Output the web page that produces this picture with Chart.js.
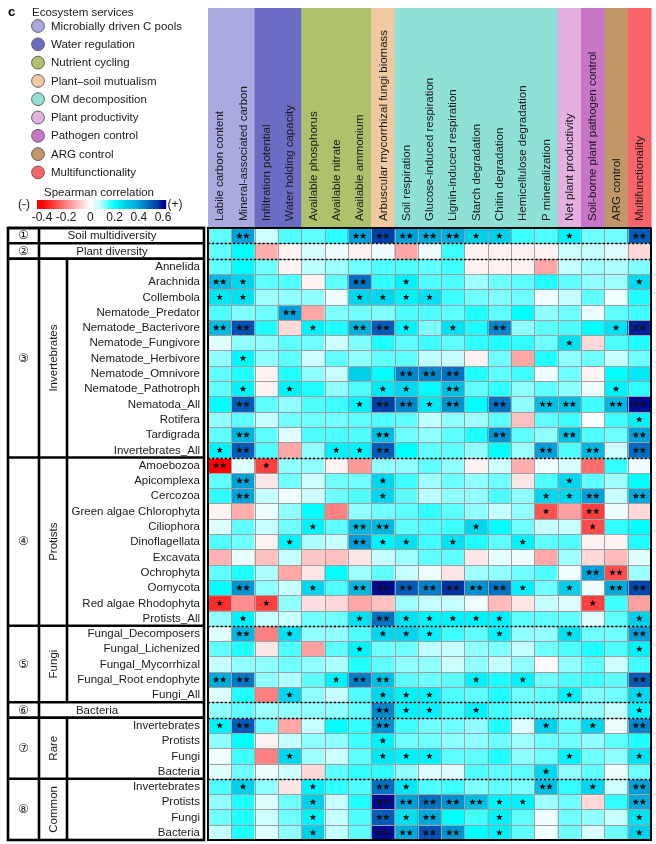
<!DOCTYPE html>
<html><head><meta charset="utf-8">
<script src="https://cdn.jsdelivr.net/npm/chart.js@4.4.0/dist/chart.umd.min.js"></script>
<style>html,body{margin:0;padding:0;background:#fff;}#wrap{width:656px;height:844px;position:relative;}</style>
</head><body><div id="wrap"><canvas id="c"></canvas></div>
<script>
const colLabels = ["Labile carbon content","Mineral-associated carbon","Infiltration potential","Water holding capacity","Available phosphorus","Available nitrate","Available ammonium","Arbuscular mycorrhizal fungi biomass","Soil respiration","Glucose-induced respiration","Lignin-induced respiration","Starch degradation","Chitin degradation","Hemicellulose degradation","P mineralization","Net plant productivity","Soil-borne plant pathogen control","ARG control","Multifunctionality"];
const colGroup = [0,0,1,1,2,2,2,3,4,4,4,4,4,4,4,5,6,7,8];
const serviceNames = ["Microbially driven C pools","Water regulation","Nutrient cycling","Plant\u2013soil mutualism","OM decomposition","Plant productivity","Pathogen control","ARG control","Multifunctionality"];
const serviceColors = ["#aaaae0","#6c6cc4","#b0c16c","#f1c9a0","#8ee1d4","#e4b0e0","#c875c8","#c09868","#f86468"];
const rowLabels = ["Soil multidiversity","Plant diversity",
 "Annelida","Arachnida","Collembola","Nematode_Predator","Nematode_Bacterivore","Nematode_Fungivore","Nematode_Herbivore","Nematode_Omnivore","Nematode_Pathotroph","Nematoda_All","Rotifera","Tardigrada","Invertebrates_All",
 "Amoebozoa","Apicomplexa","Cercozoa","Green algae Chlorophyta","Ciliophora","Dinoflagellata","Excavata","Ochrophyta","Oomycota","Red algae Rhodophyta","Protists_All",
 "Fungal_Decomposers","Fungal_Lichenized","Fungal_Mycorrhizal","Fungal_Root endophyte","Fungi_All",
 "Bacteria",
 "Invertebrates","Protists","Fungi","Bacteria",
 "Invertebrates","Protists","Fungi","Bacteria"];
const groupNums = ["\u2460","\u2461","\u2462","\u2463","\u2464","\u2465","\u2466","\u2467"];
const groupNames = ["","","Invertebrates","Protists","Fungi","","Rare","Common"];
const groupStart = [0,1,2,15,26,31,32,36];
const groupEnd   = [1,2,15,26,31,32,36,40];
const corr = [
 [0.14,0.40,0.06,0.15,0.14,0.17,0.40,0.55,0.40,0.38,0.37,0.28,0.28,0.16,0.15,0.22,0.13,0.13,0.50],
 [0.14,0.20,-0.13,-0.02,0.05,0.02,-0.02,0.02,-0.14,0.02,0.16,-0.02,-0.02,-0.02,-0.02,0.06,0.07,0.04,-0.06],
 [0.14,0.20,0.13,-0.02,0.08,0.10,0.13,0.15,0.15,0.14,0.16,-0.02,-0.02,-0.02,-0.14,0.07,0.10,0.09,0.12],
 [0.34,0.27,0.14,0.15,-0.02,0.14,0.47,0.17,0.22,0.15,0.15,0.10,0.13,0.14,0.18,0.14,0.11,0.10,0.26],
 [0.24,0.25,0.10,0.11,0.11,0.02,0.27,0.27,0.22,0.25,0.16,0.13,0.12,0.13,0.02,0.07,0.14,0.02,0.18],
 [0.15,0.12,0.13,0.40,-0.14,0.12,0.13,0.12,0.15,0.15,0.14,0.18,0.14,0.20,0.11,0.13,0.02,0.14,0.16],
 [0.34,0.52,0.18,-0.06,0.22,0.18,0.36,0.50,0.22,0.12,0.25,0.18,0.44,0.11,0.14,0.15,0.20,0.25,0.58],
 [0.04,0.11,0.11,0.14,0.13,0.06,0.12,0.18,0.14,0.16,0.14,0.17,0.18,0.17,0.13,0.25,-0.06,0.15,0.18],
 [0.11,0.21,0.11,0.14,0.06,0.14,0.11,0.14,0.14,0.08,0.07,-0.02,0.13,-0.14,0.18,0.11,0.13,0.07,0.13],
 [0.14,0.18,-0.02,0.18,0.11,0.07,0.28,0.20,0.44,0.44,0.47,0.18,0.14,0.16,0.02,0.13,-0.02,0.20,0.24],
 [0.14,0.22,-0.02,0.22,0.18,0.11,0.15,0.24,0.27,0.20,0.33,0.14,0.17,0.11,0.14,0.11,0.02,0.22,0.17],
 [0.20,0.50,0.14,0.11,0.15,0.16,0.22,0.55,0.44,0.24,0.42,0.20,0.47,0.11,0.33,0.33,0.16,0.35,0.60],
 [0.11,0.14,0.07,0.13,0.13,0.13,0.14,0.15,0.14,0.08,0.11,0.10,0.14,-0.10,0.14,0.16,0.01,0.16,0.22],
 [0.14,0.36,0.14,0.04,0.15,0.15,0.15,0.34,0.13,0.11,0.14,0.18,0.42,0.14,0.11,0.33,0.15,0.13,0.40],
 [0.22,0.50,0.15,-0.14,0.11,0.22,0.22,0.50,0.20,0.14,0.14,0.11,0.20,0.10,0.40,0.15,0.35,0.06,0.48],
 [-0.40,0.04,-0.30,0.11,0.11,-0.02,-0.16,0.11,0.11,0.14,0.11,-0.02,0.06,-0.13,0.02,0.05,-0.23,0.17,0.02],
 [0.14,0.40,-0.04,0.13,0.06,0.13,0.13,0.27,0.16,0.10,0.13,0.11,0.13,-0.04,0.15,0.27,0.14,0.10,0.20],
 [0.17,0.40,0.07,0.02,0.06,0.13,0.15,0.27,0.14,0.08,0.11,0.11,0.15,0.11,0.27,0.27,0.40,0.07,0.38],
 [-0.02,-0.13,0.02,0.11,0.20,-0.20,0.11,0.13,0.14,0.17,0.14,0.11,0.07,0.11,-0.27,-0.15,-0.30,0.02,-0.06],
 [0.04,0.14,0.07,0.13,0.22,0.14,0.35,0.35,0.14,0.15,0.16,0.27,0.20,0.13,0.07,0.07,-0.28,0.17,0.20],
 [0.15,0.13,-0.02,0.22,0.09,0.07,0.40,0.22,0.25,0.16,0.25,0.18,0.14,0.22,0.14,0.15,-0.02,-0.02,0.18],
 [-0.12,0.03,-0.10,0.07,-0.09,-0.10,-0.04,0.07,0.10,0.14,0.14,-0.04,0.03,0.02,-0.14,0.10,-0.06,-0.11,0.04],
 [0.14,0.18,0.09,-0.14,-0.04,0.20,0.10,0.14,0.07,0.02,-0.04,0.10,0.11,0.13,0.15,0.02,0.40,-0.28,0.10],
 [0.20,0.42,0.11,0.07,0.27,0.15,0.35,0.60,0.50,0.45,0.56,0.42,0.47,0.22,0.13,0.28,0.02,0.38,0.54],
 [-0.33,-0.18,-0.30,0.11,-0.05,-0.06,-0.14,-0.10,0.10,0.07,0.07,0.02,-0.11,-0.04,0.07,0.04,-0.30,0.16,-0.15],
 [0.11,0.22,0.07,0.07,0.13,0.13,0.25,0.47,0.25,0.22,0.22,0.22,0.22,0.14,0.14,0.14,0.04,0.14,0.28],
 [0.04,0.35,-0.20,0.25,0.11,0.11,0.15,0.27,0.27,0.22,0.16,0.14,0.22,0.11,0.11,0.25,0.13,0.13,0.40],
 [0.14,0.18,-0.04,0.15,-0.15,0.14,0.22,0.13,0.13,0.08,0.07,0.11,0.12,0.07,0.13,0.15,0.18,0.15,0.22],
 [0.07,0.11,0.11,0.13,0.11,0.09,0.18,0.14,0.11,0.11,0.06,0.11,0.07,0.11,-0.01,0.11,0.14,0.06,0.16],
 [0.38,0.46,0.11,0.09,0.14,0.22,0.45,0.33,0.14,0.13,0.14,0.22,0.18,0.22,0.13,0.15,0.16,0.14,0.50],
 [0.04,0.18,-0.20,0.27,0.11,0.07,0.15,0.27,0.22,0.22,0.15,0.14,0.18,0.13,0.14,0.22,0.12,0.13,0.27],
 [0.11,0.14,0.10,0.11,0.11,0.11,0.14,0.44,0.22,0.22,0.16,0.22,0.16,0.13,0.13,0.11,0.11,0.07,0.22],
 [0.22,0.50,0.13,-0.14,0.07,0.20,0.17,0.42,0.16,0.13,0.13,0.11,0.18,0.04,0.28,0.14,0.27,0.02,0.44],
 [0.11,0.20,-0.02,0.07,0.11,0.11,0.16,0.22,0.13,0.13,0.11,0.11,0.13,0.10,0.13,0.13,0.11,0.14,0.18],
 [0.02,0.16,-0.20,0.27,0.10,0.06,0.14,0.24,0.22,0.22,0.14,0.14,0.18,0.11,0.13,0.22,0.13,0.11,0.25],
 [0.04,0.13,0.02,0.06,-0.06,0.14,0.17,0.17,0.11,0.04,0.04,0.15,0.14,0.14,0.27,0.11,0.14,0.02,0.13],
 [0.15,0.28,0.11,-0.04,0.22,0.17,0.15,0.47,0.24,0.15,0.16,0.12,0.14,0.12,0.33,0.17,0.27,0.06,0.40],
 [0.11,0.18,0.04,0.13,0.28,0.07,0.18,0.60,0.40,0.47,0.42,0.33,0.22,0.22,0.10,0.13,-0.06,0.17,0.38],
 [0.13,0.18,0.06,0.13,0.22,0.07,0.15,0.50,0.25,0.38,0.20,0.16,0.22,0.14,0.02,0.13,0.11,0.07,0.25],
 [0.07,0.18,0.04,0.11,0.28,0.07,0.14,0.60,0.38,0.52,0.42,0.20,0.22,0.14,0.02,0.13,0.05,0.13,0.28]
];
// significance: 0 none, 1 = *, 2 = **
const sig = [
 "0200002222211001002","0000000000000000000","0000000000000000000","2100002010000000001",
 "1100001111000000000","0002000000000000000","2200102210102000012","0000000000000001000",
 "0100000000000000000","0000000022200000000","0101000110200000010","0200001221202022022",
 "0000000000000000001","0200000200002002002","1200011200000020202",
 "2010000000000000000","0200000100000001000","0200000100000011202","0000000000000010200",
 "0000102200010000100","0001002110100100000","0000000000000000000","0000000000000000220",
 "0200102222222101022","1010000000000000100","0100001211111000001",
 "0201000111001001002","0000001000000000001","0000000000000000000","2200012200010100002",
 "0001000111000001001","0000000211010000001",
 "1200000200000010102","0000000100000000000","0001000111000001001","0000000000000010000",
 "0100100210000020102","0000100222221100002","0000100212001000001","0000100222201000001"
];
const cbTicks = [-0.4,-0.2,0,0.2,0.4,0.6];

const stops = [
 [-0.4,[255,0,0]],[-0.3,[255,64,64]],[-0.2,[255,128,128]],[-0.1,[255,192,192]],[0,[255,255,255]],
 [0.08,[190,255,255]],[0.2,[0,255,255]],[0.28,[0,208,234]],[0.35,[0,184,224]],[0.4,[0,160,216]],
 [0.45,[0,128,200]],[0.5,[0,92,184]],[0.55,[0,64,168]],[0.6,[0,10,144]],[0.63,[0,0,128]]
];
function colorFor(v){
  if (v <= stops[0][0]) return 'rgb(255,0,0)';
  for (let i=1;i<stops.length;i++){
    if (v <= stops[i][0]){
      const [v0,c0]=stops[i-1],[v1,c1]=stops[i];
      const t=(v-v0)/(v1-v0);
      return 'rgb('+c0.map((c,k)=>Math.round(c+(c1[k]-c)*t)).join(',')+')';
    }
  }
  return 'rgb(0,0,128)';
}

const FONT = '"Liberation Sans", Arial, sans-serif';

function star(ctx,cx,cy,R){
  ctx.beginPath();
  for(let i=0;i<10;i++){
    const ang=-Math.PI/2+i*Math.PI/5; const rr=i%2===0?R:R*0.45;
    const px=cx+rr*Math.cos(ang), py=cy+rr*Math.sin(ang);
    if(i===0)ctx.moveTo(px,py);else ctx.lineTo(px,py);
  }
  ctx.closePath(); ctx.fill();
}

const deco = {
  id:'deco',
  afterDatasetsDraw(chart){
    const {ctx, chartArea:a, scales:{x,y}} = chart;
    const nC=colLabels.length, nR=rowLabels.length;
    const cw = x.getPixelForValue(1)-x.getPixelForValue(0);
    const colL = j => x.getPixelForValue(j)-cw/2;
    const rowT = r => y.getPixelForValue(r);
    ctx.save();
    // grid
    ctx.strokeStyle='#a0a0a0'; ctx.lineWidth=1;
    ctx.beginPath();
    for(let j=1;j<nC;j++){const px=Math.round(colL(j))+0.5;ctx.moveTo(px,a.top);ctx.lineTo(px,a.bottom);}
    for(let r=1;r<nR;r++){const py=Math.round(rowT(r))+0.5;ctx.moveTo(a.left,py);ctx.lineTo(a.right,py);}
    ctx.stroke();
    // dotted separators
    ctx.strokeStyle='#000'; ctx.lineWidth=1.7; ctx.setLineDash([2,2.2]);
    ctx.beginPath();
    for(let g=1;g<groupStart.length;g++){const py=Math.round(rowT(groupStart[g]))+0.5;ctx.moveTo(a.left,py);ctx.lineTo(a.right,py);}
    ctx.stroke(); ctx.setLineDash([]);
    // stars
    ctx.fillStyle='#111';
    for(let r=0;r<nR;r++){
      const cy=(rowT(r)+rowT(r+1))/2+0.3;
      for(let j=0;j<nC;j++){
        const s=+sig[r][j]; const cx=x.getPixelForValue(j);
        if(s===1) star(ctx,cx,cy,3.4);
        else if(s===2){star(ctx,cx-3.5,cy,3.4);star(ctx,cx+3.5,cy,3.4);}
      }
    }
    // heatmap border
    ctx.strokeStyle='#000'; ctx.lineWidth=2;
    ctx.strokeRect(a.left,a.top,a.right-a.left,a.bottom-a.top);

    // header bands
    for(let j=0;j<nC;j++){
      ctx.fillStyle=serviceColors[colGroup[j]];
      ctx.fillRect(colL(j),8,cw+0.6,a.top-8);
    }
    ctx.fillStyle='#1a1a1a'; ctx.font='11.5px '+FONT; ctx.textAlign='left'; ctx.textBaseline='middle';
    for(let j=0;j<nC;j++){
      ctx.save(); ctx.translate(x.getPixelForValue(j)+0.5,a.top-7); ctx.rotate(-Math.PI/2);
      ctx.fillText(colLabels[j],0,0); ctx.restore();
    }
    ctx.strokeStyle='#000'; ctx.lineWidth=2;
    ctx.beginPath(); ctx.moveTo(a.left,a.top); ctx.lineTo(a.right,a.top); ctx.stroke();

    // left table
    const L=8,D1=39,D2=67,R=204;
    ctx.fillStyle='#1a1a1a'; ctx.font='11.5px '+FONT; ctx.textBaseline='middle';
    const singleCx=[112,112,97]; let si=0;
    for(let g=0;g<groupStart.length;g++){
      const s=groupStart[g], e=groupEnd[g];
      if(e-s===1){
        ctx.textAlign='center'; ctx.fillText(rowLabels[s],singleCx[si++],(rowT(s)+rowT(e))/2+0.5);
      } else {
        ctx.textAlign='right';
        for(let r=s;r<e;r++) ctx.fillText(rowLabels[r],200,(rowT(r)+rowT(r+1))/2+0.5);
        ctx.save(); ctx.translate((D1+D2)/2+1,(rowT(s)+rowT(e))/2); ctx.rotate(-Math.PI/2);
        ctx.textAlign='center'; ctx.fillText(groupNames[g],0,0); ctx.restore();
      }
      ctx.textAlign='center'; ctx.font='12px "DejaVu Sans", sans-serif';
      ctx.fillText(groupNums[g],(L+D1)/2,(rowT(s)+rowT(e))/2+0.5);
      ctx.font='11.5px '+FONT;
    }
    ctx.strokeStyle='#000'; ctx.lineWidth=2.6;
    ctx.strokeRect(L,a.top,R-L,a.bottom-a.top);
    ctx.beginPath(); ctx.moveTo(D1,a.top); ctx.lineTo(D1,a.bottom);
    for(let g=0;g<groupStart.length;g++){
      const t=rowT(groupStart[g]); ctx.moveTo(L,t); ctx.lineTo(R,t);
      if(groupEnd[g]-groupStart[g]>1){ctx.moveTo(D2,t);ctx.lineTo(D2,rowT(groupEnd[g]));}
    }
    ctx.stroke();

    // legend
    ctx.fillStyle='#000'; ctx.font='bold 13px '+FONT; ctx.textAlign='left';
    ctx.fillText('c',8,12);
    ctx.fillStyle='#1a1a1a'; ctx.font='11.5px '+FONT;
    ctx.fillText('Ecosystem services',32,12.5);
    for(let i=0;i<serviceNames.length;i++){
      const cy=26+i*18.3;
      ctx.beginPath(); ctx.arc(38,cy,6.4,0,Math.PI*2);
      ctx.fillStyle=serviceColors[i]; ctx.fill();
      ctx.strokeStyle='#555'; ctx.lineWidth=0.9; ctx.stroke();
      ctx.fillStyle='#1a1a1a'; ctx.fillText(serviceNames[i],51,cy+0.5);
    }
    // colorbar
    ctx.textAlign='center';
    ctx.fillText('Spearman correlation',99,193);
    const z0=90.4, k=121;
    for(let px=37;px<166;px++){ctx.fillStyle=colorFor((px+0.5-z0)/k);ctx.fillRect(px,200,1.2,9);}
    ctx.fillStyle='#1a1a1a'; ctx.font='12px '+FONT;
    ctx.fillText('(-)',24,205); ctx.fillText('(+)',175,205);
    cbTicks.forEach(t=>ctx.fillText((t<0?'-':'')+String(Math.abs(t)),z0+t*k,218));
    ctx.restore();
  }
};

const datasets = rowLabels.map((lab,r)=>({
  label: lab,
  data: colLabels.map(()=>[r,r+1]),
  backgroundColor: corr[r].map(colorFor),
  borderWidth: 0,
  grouped: false,
  barPercentage: 1,
  categoryPercentage: 1
}));

new Chart(document.getElementById('c'),{
  type:'bar',
  data:{labels:colLabels,datasets},
  options:{
    responsive:true, maintainAspectRatio:false, animation:false, events:[],
    layout:{padding:{left:208,right:5,top:228,bottom:4}},
    plugins:{legend:{display:false},tooltip:{enabled:false}},
    scales:{
      x:{type:'category',display:false,offset:true,grid:{display:false}},
      y:{type:'linear',min:0,max:40,reverse:true,display:false}
    }
  },
  plugins:[deco]
});
</script></body></html>
